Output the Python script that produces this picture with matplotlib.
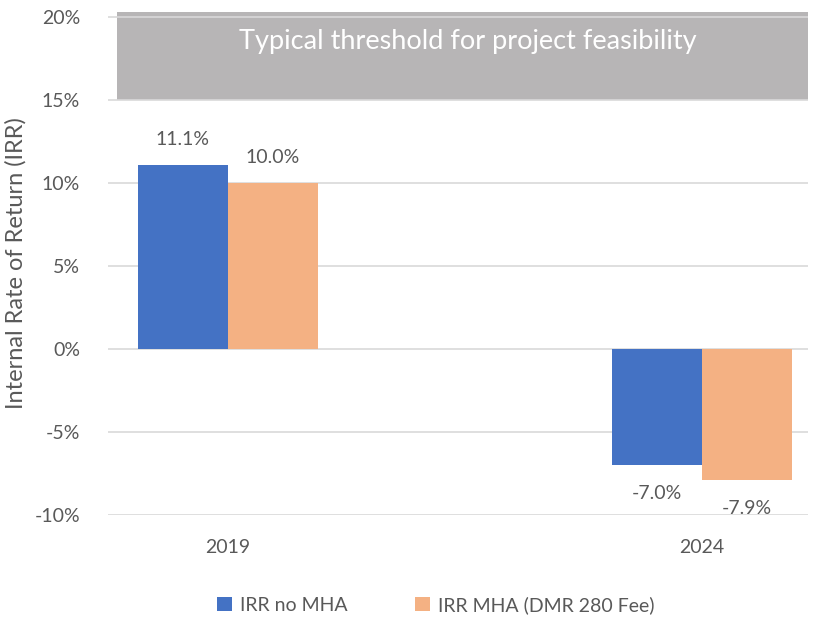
import matplotlib.pyplot as plt

years = ['2019', '2024']
irr_no_mha = [11.1, -7.0]
irr_mha = [10.0, -7.9]
series_names = ['IRR no MHA', 'IRR MHA (DMR 280 Fee)']
threshold_low = 15
threshold_high = 20.3
yticks = [-10, -5, 0, 5, 10, 15, 20]

plt.rcParams['font.family'] = ['Lato', 'DejaVu Sans']
grey = '#595959'

fig = plt.figure(figsize=(8.13, 6.2), dpi=100)
ax = fig.add_axes([0.1328, 0.1694, 0.861, 0.8112])

x = [0, 1]
w = 0.19
b1 = ax.bar([i - w / 2 for i in x], irr_no_mha, w, color='#4472c4', label=series_names[0], zorder=3)
b2 = ax.bar([i + w / 2 for i in x], irr_mha, w, color='#f4b183', label=series_names[1], zorder=3)

# feasibility band
ax.axhspan(threshold_low, threshold_high, xmin=0.0129, xmax=1, color='#b7b5b6', zorder=1, lw=0)
ax.text(0.506, 18.5, 'Typical threshold for project feasibility', color='white',
        fontsize=19.5, ha='center', va='center', zorder=4)

for bars, vals in ((b1, irr_no_mha), (b2, irr_mha)):
    for r, v in zip(bars, vals):
        cx = r.get_x() + r.get_width() / 2
        off = 1.55 if v >= 0 else -1.72
        ax.text(cx, v + off, f'{v:.1f}%', ha='center', va='center', fontsize=14, color=grey)

ax.set_xlim(-0.253, 1.224)
ax.set_ylim(-10, threshold_high)
ax.set_yticks(yticks)
ax.set_yticklabels([f'{t}%' for t in yticks], fontsize=14, color=grey)
ax.set_xticks(x)
ax.set_xticklabels(years, fontsize=14, color=grey)
ax.tick_params(axis='y', length=0, pad=20)
ax.tick_params(axis='x', length=0, pad=17)
ax.grid(axis='y', color='#d9d9d9', lw=1.2, zorder=2)
ax.set_axisbelow(False)
for s in ax.spines.values():
    s.set_visible(False)
ax.set_ylabel('Internal Rate of Return (IRR)', fontsize=17, color=grey, labelpad=6)

fig.legend(handles=[b1, b2], loc='center', bbox_to_anchor=(0.536, 0.024), ncol=2,
           frameon=False, fontsize=14, labelcolor=grey, handlelength=0.75, handleheight=0.75,
           columnspacing=3.5, handletextpad=0.4)

fig.savefig('out.png', dpi=100)
